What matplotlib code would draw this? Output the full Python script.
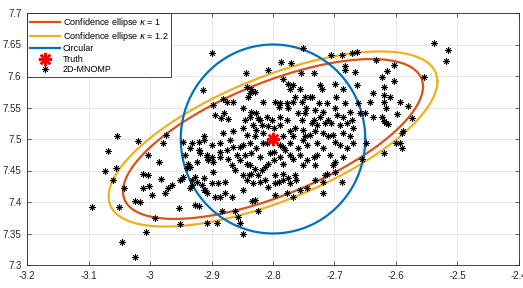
import numpy as np
import matplotlib
matplotlib.use('Agg')
import matplotlib.pyplot as plt

plt.rcParams['font.family'] = ['Liberation Sans', 'DejaVu Sans']
plt.rcParams['axes.unicode_minus'] = False

# ---------------- data ----------------
truth_x = [-2.8]
truth_y = [7.5]
ellipse_center = [-2.8, 7.5]
ellipse_cov = [[0.0595, 0.0203], [0.0203, 0.0161]]
kappas = [1.0, 1.2]
circle_center = [-2.8, 7.5]
circle_radius = 0.15

est_x = [
    -3.095, -3.051, -3.024, -3.017, -2.992, -2.953, -2.951, -3.046, -3.024, -3.007,
    -2.927, -2.920, -2.907, -2.891, -2.883, -2.861, -2.857, -2.854, -2.849, -2.824, -2.834,
    -3.054, -3.069, -3.020, -3.073, -3.055, -3.060, -3.042, -3.003, -2.985, -2.979,
    -2.974, -3.012, -3.004, -2.982, -3.011, -3.001, -2.996, -2.970, -2.976,
    -2.900, -2.914, -2.844, -2.808, -2.787, -2.770, -2.752, -2.755, -2.733, -2.706,
    -2.882, -2.875, -2.865, -2.897, -2.894, -2.885, -2.873, -2.881, -2.865, -2.880, -2.913,
    -2.783, -2.775, -2.767, -2.772, -2.756, -2.843, -2.835, -2.829, -2.840, -2.816,
    -2.796, -2.789, -2.778, -2.767, -2.753, -2.748, -2.791, -2.848, -2.835, -2.827,
    -2.837, -2.845, -2.824, -2.810, -2.802, -2.789, -2.778, -2.759, -2.748, -2.753,
    -2.848, -2.832, -2.827, -2.818, -2.808, -2.798, -2.788, -2.772, -2.764, -2.751,
    -2.843, -2.829, -2.816, -2.783, -2.767, -2.748,
    -2.699, -2.724, -2.721, -2.686, -2.664, -2.737, -2.726, -2.713, -2.683, -2.661,
    -2.637, -2.642, -2.732, -2.718, -2.699, -2.675, -2.659, -2.651, -2.637, -2.734,
    -2.724, -2.710, -2.696, -2.686, -2.672, -2.729, -2.715, -2.705, -2.691, -2.680,
    -2.670, -2.732, -2.718, -2.702, -2.686, -2.675,
    -2.687, -2.672, -2.663, -2.683, -2.633, -2.683, -2.667,
    -2.538, -2.515, -2.519, -2.554, -2.603, -2.615, -2.622, -2.603, -2.620, -2.620,
    -2.619, -2.609, -2.616, -2.593, -2.581, -2.598, -2.574, -2.623, -2.620, -2.616,
    -2.613, -2.588, -2.591, -2.593, -2.600, -2.591, -2.619,
    -2.729, -2.718, -2.699, -2.691, -2.680, -2.670, -2.729, -2.707, -2.686, -2.699,
    -2.732, -2.702, -2.656, -2.715, -2.718, -2.688, -2.718, -2.649,
    -2.938, -2.935, -2.946, -2.951, -2.932, -2.927, -2.913, -2.932, -2.916, -2.965,
    -2.908, -2.900, -2.889, -2.878, -2.897, -2.886, -2.878, -2.867, -2.946, -2.932,
    -2.921, -2.935, -2.900, -2.886, -2.875, -2.865, -2.886, -2.873, -2.859, -2.867,
    -2.862, -2.897, -2.908, -2.921, -2.923, -2.943, -2.935,
    -2.848, -2.837, -2.827, -2.816, -2.783, -2.772, -2.759, -2.745, -2.845, -2.835,
    -2.821, -2.805, -2.799, -2.808, -2.789, -2.767, -2.756, -2.751, -2.837, -2.829,
    -2.835, -2.824, -2.818, -2.848, -2.813, -2.843, -2.832, -2.821, -2.848, -2.808,
    -2.796, -2.783, -2.772, -2.762, -2.796, -2.756, -2.745, -2.778, -2.767, -2.829,
    -2.837, -2.765, -2.740, -2.775, -2.746, -2.821, -2.737, -2.740, -2.698,
    -2.886, -2.900, -2.870, -2.854, -2.810, -2.799, -2.789, -2.780, -2.751, -2.710,
    -2.734, -2.745, -2.772, -2.783, -2.813, -2.843, -2.854, -2.839, -2.911, -2.894,
    -2.791, -2.796, -2.783, -2.775, -2.764, -2.732, -2.713, -2.699,
    -2.913, -2.919, -2.908, -2.905, -2.940, -2.948, -2.924, -2.912,
]
est_y = [
    7.392, 7.392, 7.402, 7.400, 7.374, 7.390, 7.365, 7.337, 7.312, 7.353,
    7.395, 7.394, 7.367, 7.367, 7.385, 7.385, 7.376, 7.366, 7.350, 7.385, 7.402,
    7.504, 7.481, 7.497, 7.450, 7.454, 7.435, 7.423, 7.475, 7.464, 7.493,
    7.506, 7.444, 7.443, 7.436, 7.423, 7.425, 7.411, 7.423, 7.415,
    7.636, 7.578, 7.604, 7.610, 7.622, 7.620, 7.644, 7.604, 7.604, 7.633,
    7.563, 7.558, 7.558, 7.554, 7.538, 7.534, 7.532, 7.509, 7.512, 7.542, 7.505,
    7.595, 7.588, 7.586, 7.580, 7.580, 7.583, 7.580, 7.575, 7.567, 7.559,
    7.559, 7.557, 7.557, 7.559, 7.559, 7.567, 7.551, 7.549, 7.543, 7.541,
    7.535, 7.530, 7.533, 7.535, 7.530, 7.535, 7.530, 7.541, 7.541, 7.530,
    7.517, 7.522, 7.514, 7.522, 7.520, 7.517, 7.522, 7.512, 7.517, 7.514,
    7.506, 7.504, 7.509, 7.504, 7.504, 7.504,
    7.587, 7.586, 7.580, 7.580, 7.586, 7.567, 7.557, 7.557, 7.557, 7.557,
    7.573, 7.559, 7.546, 7.543, 7.549, 7.543, 7.541, 7.542, 7.535, 7.530,
    7.535, 7.530, 7.538, 7.535, 7.530, 7.522, 7.525, 7.525, 7.522, 7.525,
    7.517, 7.512, 7.509, 7.506, 7.509, 7.504,
    7.633, 7.636, 7.638, 7.616, 7.625, 7.610, 7.607,
    7.652, 7.641, 7.624, 7.599, 7.617, 7.608, 7.599, 7.592, 7.583, 7.570,
    7.559, 7.566, 7.550, 7.559, 7.552, 7.539, 7.533, 7.535, 7.529, 7.525,
    7.524, 7.513, 7.509, 7.494, 7.494, 7.485, 7.478,
    7.493, 7.485, 7.496, 7.490, 7.485, 7.493, 7.475, 7.475, 7.472, 7.464,
    7.459, 7.459, 7.469, 7.443, 7.432, 7.432, 7.415, 7.493,
    7.461, 7.456, 7.440, 7.435, 7.435, 7.440, 7.438, 7.427, 7.427, 7.427,
    7.414, 7.430, 7.430, 7.432, 7.448, 7.408, 7.414, 7.408, 7.496, 7.493,
    7.496, 7.485, 7.490, 7.493, 7.483, 7.488, 7.472, 7.469, 7.475, 7.459,
    7.451, 7.464, 7.475, 7.483, 7.464, 7.475, 7.423,
    7.490, 7.493, 7.485, 7.493, 7.488, 7.493, 7.485, 7.490, 7.475, 7.477,
    7.472, 7.477, 7.467, 7.461, 7.472, 7.469, 7.475, 7.459, 7.459, 7.453,
    7.445, 7.443, 7.451, 7.443, 7.435, 7.435, 7.430, 7.432, 7.419, 7.424,
    7.430, 7.435, 7.430, 7.435, 7.411, 7.419, 7.422, 7.414, 7.408, 7.403,
    7.573, 7.566, 7.566, 7.549, 7.550, 7.530, 7.525, 7.506, 7.566,
    7.480, 7.472, 7.498, 7.488, 7.493, 7.480, 7.490, 7.483, 7.498, 7.505,
    7.472, 7.467, 7.475, 7.461, 7.456, 7.461, 7.467, 7.443, 7.419, 7.408,
    7.432, 7.443, 7.445, 7.438, 7.443, 7.435, 7.445, 7.448,
    7.498, 7.477, 7.472, 7.467, 7.454, 7.437, 7.432, 7.419,
]

x_ticks = [-3.2, -3.1, -3.0, -2.9, -2.8, -2.7, -2.6, -2.5, -2.4]
x_tick_labels = ['-3.2', '-3.1', '-3', '-2.9', '-2.8', '-2.7', '-2.6', '-2.5', '-2.4']
y_ticks = [7.3, 7.35, 7.4, 7.45, 7.5, 7.55, 7.6, 7.65, 7.7]
y_tick_labels = ['7.3', '7.35', '7.4', '7.45', '7.5', '7.55', '7.6', '7.65', '7.7']

labels = ['Confidence ellipse $\\kappa$ = 1', 'Confidence ellipse $\\kappa$ = 1.2',
          'Circular', 'Truth', '2D-MNOMP']

# ---------------- plot ----------------
fig = plt.figure(figsize=(5.23, 2.88), dpi=100)
ax = fig.add_axes([27 / 523, 23 / 288, 492 / 523, 252 / 288])

t = np.linspace(0, 2 * np.pi, 400)
L = np.linalg.cholesky(np.array(ellipse_cov))
unit = np.vstack([np.cos(t), np.sin(t)])
ell_colors = ['#D95319', '#EDB120']
handles = []
for k, c, lab in zip(kappas, ell_colors, labels[:2]):
    pts = np.sqrt(k) * (L @ unit)
    h, = ax.plot(ellipse_center[0] + pts[0], ellipse_center[1] + pts[1],
                 color=c, lw=1.6, label=lab, zorder=3)
    handles.append(h)

h, = ax.plot(circle_center[0] + circle_radius * np.cos(t),
             circle_center[1] + circle_radius * np.sin(t),
             color='#0072BD', lw=1.6, label=labels[2], zorder=3)
handles.append(h)

h_est, = ax.plot(est_x, est_y, ls='none', marker=(8, 2, 0), ms=4.6, mew=0.6,
                 color='k', label=labels[4], zorder=4)
h_truth, = ax.plot(truth_x, truth_y, ls='none', marker=(8, 2, 0), ms=9.5, mew=1.8,
                   color='#FF0000', label=labels[3], zorder=5)
handles += [h_truth, h_est]

ax.set_xlim(-3.2, -2.4)
ax.set_ylim(7.3, 7.7)
ax.set_xticks(x_ticks)
ax.set_xticklabels(x_tick_labels)
ax.set_yticks(y_ticks)
ax.set_yticklabels(y_tick_labels)
ax.tick_params(direction='in', length=3, width=0.5, top=True, right=True,
               labelsize=7, colors='#262626', pad=4)
ax.grid(True, color='#e3e3e3', lw=0.6, zorder=0)
ax.set_axisbelow(True)
for s in ax.spines.values():
    s.set_color('#262626')
    s.set_linewidth(0.6)

leg = ax.legend(handles=handles, loc='upper left', bbox_to_anchor=(0, 1),
                borderaxespad=0, fancybox=False, edgecolor='#262626',
                framealpha=1, fontsize=6.5, handlelength=3.4, handletextpad=0.25,
                labelspacing=0.15, borderpad=0.3)
leg.get_frame().set_linewidth(0.6)

fig.savefig('out.png', dpi=100)
